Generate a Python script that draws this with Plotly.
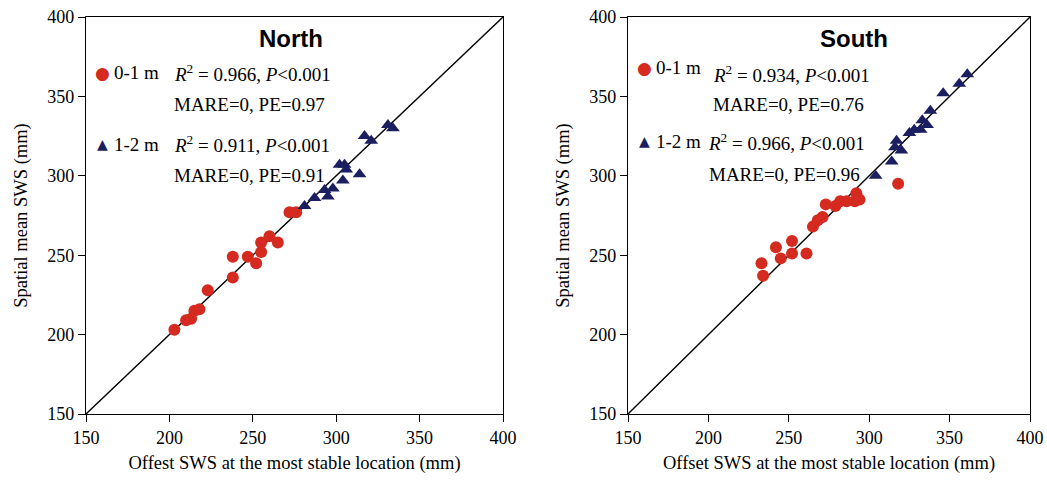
import plotly.graph_objects as go

W, H = 1047, 492

# North site: offset SWS at most stable location vs spatial mean SWS (mm)
north_shallow_x = [203, 210, 213, 215, 218, 223, 238, 238, 247, 252, 255, 255, 260, 265, 272, 276]
north_shallow_y = [203, 209, 210, 215, 216, 228, 236, 249, 249, 245, 252, 258, 262, 258, 277, 277]
north_deep_x = [281, 287, 293, 298, 295, 302, 305, 304, 306, 314, 317, 321, 331, 334]
north_deep_y = [281, 286, 291, 292, 287, 307, 307, 297, 304, 301, 325, 322, 332, 330]

# South site
south_shallow_x = [234, 233, 242, 245, 252, 252, 261, 265, 268, 271, 273, 279, 282, 286, 291, 292, 294, 318]
south_shallow_y = [237, 245, 255, 248, 259, 251, 251, 268, 272, 274, 282, 281, 284, 284, 284, 289, 285, 295]
south_deep_x = [304, 314, 317, 316, 320, 325, 328, 332, 333, 336, 338, 346, 356, 361]
south_deep_y = [300, 309, 322, 318, 316, 327, 329, 329, 335, 332, 341, 352, 358, 364]

axis_min, axis_max = 150, 400
tick_vals = [150, 200, 250, 300, 350, 400]

RED = "#d42a20"
NAVY = "#1b1f5f"
SERIF = "Liberation Serif, Times New Roman, serif"
SANS = "Liberation Sans, Arial, sans-serif"


def px(x):
    return x / W


def py(y):
    return (H - y) / H


fig = go.Figure()

panels = [
    ("x", "y", north_shallow_x, north_shallow_y, north_deep_x, north_deep_y),
    ("x2", "y2", south_shallow_x, south_shallow_y, south_deep_x, south_deep_y),
]
for xa, ya, sx, sy, dx, dy in panels:
    fig.add_trace(go.Scatter(x=[axis_min, axis_max], y=[axis_min, axis_max], mode="lines",
                             line=dict(color="black", width=1.4), xaxis=xa, yaxis=ya,
                             showlegend=False, hoverinfo="skip"))
    fig.add_trace(go.Scatter(x=sx, y=sy, mode="markers", xaxis=xa, yaxis=ya,
                             marker=dict(symbol="circle", size=12, color=RED),
                             showlegend=False))
    fig.add_trace(go.Scatter(x=dx, y=dy, mode="markers", xaxis=xa, yaxis=ya,
                             marker=dict(symbol="triangle-up", size=12, color=NAVY),
                             showlegend=False))

axis_common = dict(
    range=[axis_min, axis_max], tickvals=tick_vals, showgrid=False, zeroline=False,
    showline=True, linecolor="black", linewidth=1.4, mirror=True,
    ticks="outside", ticklen=7, tickcolor="black", tickwidth=1.4,
    tickfont=dict(family=SERIF, size=18, color="black"), automargin=False,
)
title_font = dict(family=SERIF, size=18.5, color="black")

fig.update_layout(
    width=W, height=H,
    margin=dict(l=0, r=0, t=0, b=0),
    paper_bgcolor="white", plot_bgcolor="white",
    xaxis=dict(axis_common, domain=[px(86), px(503)], anchor="y",
               title=dict(text="Offest SWS at the most stable location (mm)",
                          font=title_font, standoff=9)),
    yaxis=dict(axis_common, domain=[py(414), py(17)], anchor="x",
               title=dict(text="Spatial mean SWS (mm)", font=title_font, standoff=14)),
    xaxis2=dict(axis_common, domain=[px(628), px(1030)], anchor="y2",
                title=dict(text="Offset SWS at the most stable location (mm)",
                           font=title_font, standoff=9)),
    yaxis2=dict(axis_common, domain=[py(414), py(17)], anchor="x2",
                title=dict(text="Spatial mean SWS (mm)", font=title_font, standoff=14)),
)


def note(text, x, y, size=19, color="black", family=SERIF, anchor="left"):
    fig.add_annotation(text=text, x=px(x), y=py(y), xref="paper", yref="paper",
                       xanchor=anchor, yanchor="middle", showarrow=False,
                       font=dict(family=family, size=size, color=color))


# North panel labels
note("<b>North</b>", 291, 38, size=24, family=SANS, anchor="center")
note("●", 103, 73, size=17, color=RED, family="DejaVu Sans", anchor="center")
note("0-1 m", 112, 73)
note("<i>R</i><sup>2</sup> = 0.966, <i>P</i>&lt;0.001", 172, 73)
note("MARE=0, PE=0.97", 172, 105)
note("▲", 103, 144, size=14, color=NAVY, family="DejaVu Sans", anchor="center")
note("1-2 m", 112, 144)
note("<i>R</i><sup>2</sup> = 0.911, <i>P</i>&lt;0.001", 172, 144)
note("MARE=0, PE=0.91", 172, 175)

# South panel labels
note("<b>South</b>", 854, 38, size=24, family=SANS, anchor="center")
note("●", 644, 68, size=17, color=RED, family="DejaVu Sans", anchor="center")
note("0-1 m", 654, 68)
note("<i>R</i><sup>2</sup> = 0.934, <i>P</i>&lt;0.001", 711, 74)
note("MARE=0, PE=0.76", 711, 105)
note("▲", 644, 141, size=14, color=NAVY, family="DejaVu Sans", anchor="center")
note("1-2 m", 654, 142)
note("<i>R</i><sup>2</sup> = 0.966, <i>P</i>&lt;0.001", 706, 142)
note("MARE=0, PE=0.96", 707, 174)

fig.write_html("out.html")
